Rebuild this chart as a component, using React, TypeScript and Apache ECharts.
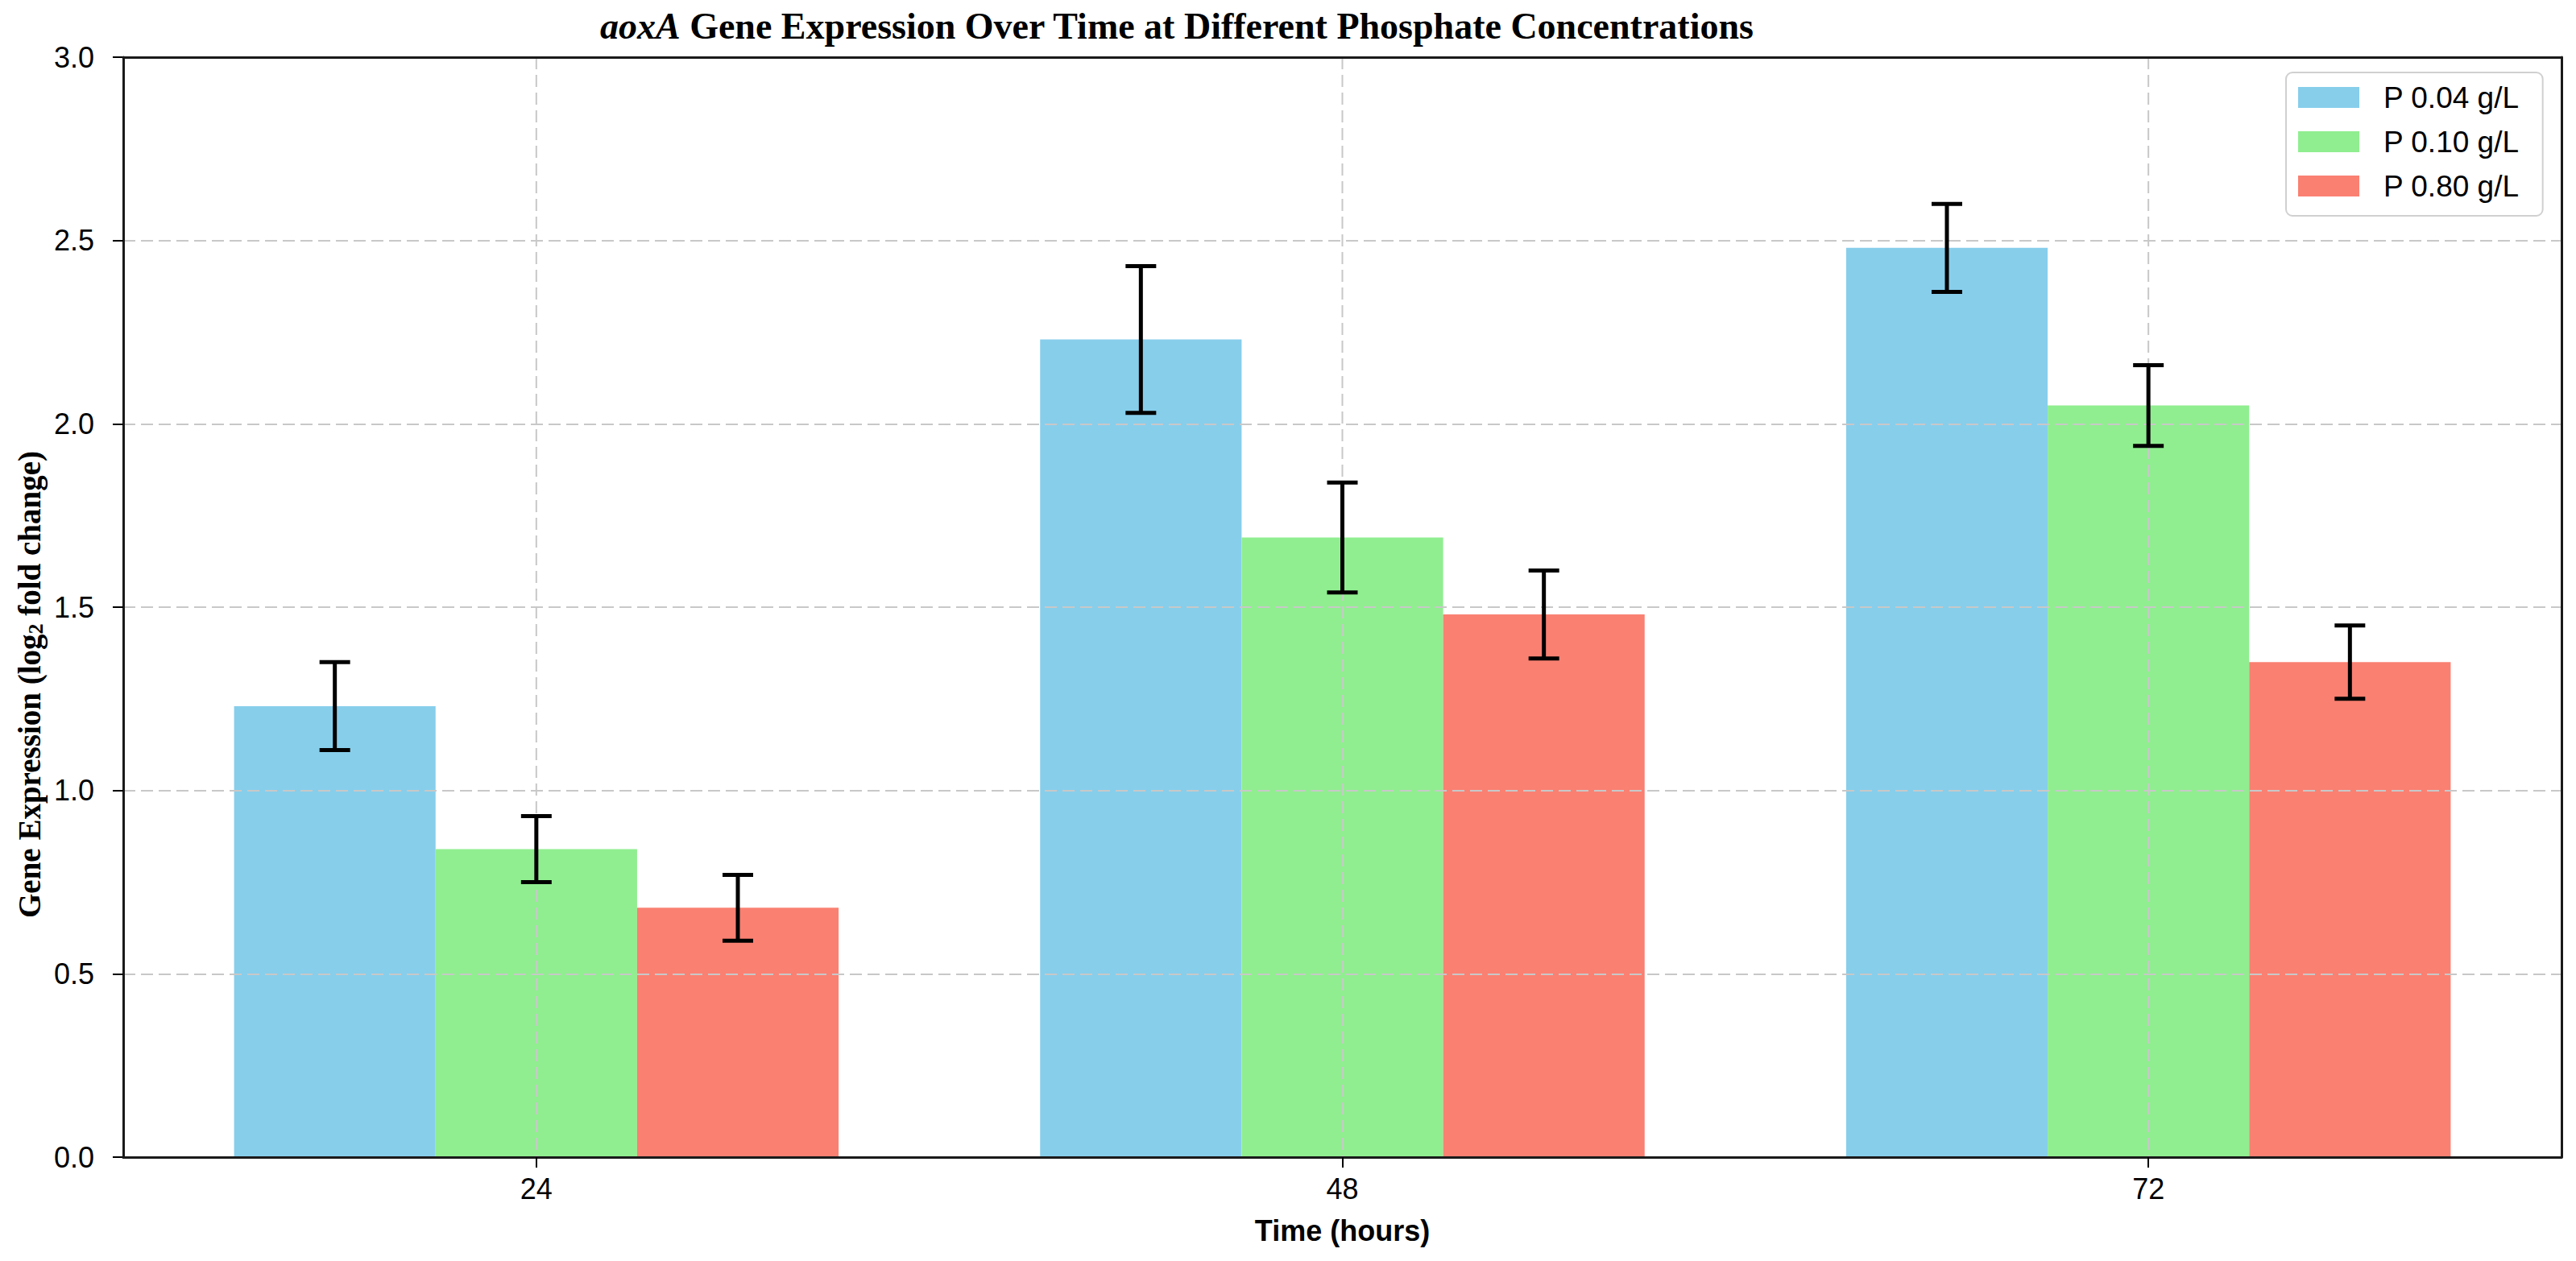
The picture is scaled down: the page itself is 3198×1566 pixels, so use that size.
import React, { useEffect, useRef } from "react";
import * as echarts from "echarts";

// ---- data ----
const hours = ["24", "48", "72"];
const seriesNames = ["P 0.04 g/L", "P 0.10 g/L", "P 0.80 g/L"];
const p004 = [1.23, 2.23, 2.48];
const p004Err = [0.12, 0.2, 0.12];
const p010 = [0.84, 1.69, 2.05];
const p010Err = [0.09, 0.15, 0.11];
const p080 = [0.68, 1.48, 1.35];
const p080Err = [0.09, 0.12, 0.1];
const yTicks = [0, 0.5, 1, 1.5, 2, 2.5, 3];

const colors = ["#87CEEB", "#90EE90", "#FA8072"];
const values = [p004, p010, p080];
const errors = [p004Err, p010Err, p080Err];

const W = 3198;
const H = 1566;
const BAR_W = 0.25;
const SERIF = "'Liberation Serif', 'Times New Roman', serif";
const SANS = "'Liberation Sans', Arial, sans-serif";
const GRID_COLOR = "#c8c8c8";
const SPINE = "#1a1a1a";

export default function App() {
  const ref = useRef<HTMLDivElement>(null);
  useEffect(() => {
    if (!ref.current) return;
    const chart = echarts.init(ref.current, null, { renderer: "svg", width: W, height: H });

    const barSeries = values.map((vals, k) => {
      const off = (k - 1) * BAR_W;
      return {
        type: "custom",
        name: seriesNames[k],
        z: 2,
        itemStyle: { color: colors[k] },
        encode: { x: 0, y: 1 },
        data: hours.map((_, i) => [i, vals[i]]),
        renderItem: (params: any, api: any) => {
          const c = api.value(0) + off;
          const v = api.value(1);
          const p0 = api.coord([c - BAR_W / 2, v]);
          const p1 = api.coord([c + BAR_W / 2, 0]);
          return {
            type: "rect",
            shape: { x: p0[0], y: p0[1], width: p1[0] - p0[0], height: p1[1] - p0[1] },
            style: { fill: colors[k] },
          };
        },
      };
    });

    const errSeries = values.map((vals, k) => {
      const off = (k - 1) * BAR_W;
      return {
        type: "custom",
        name: "err" + k,
        z: 6,
        silent: true,
        encode: { x: 0, y: 1 },
        data: hours.map((_, i) => [i, vals[i], errors[k][i]]),
        renderItem: (params: any, api: any) => {
          const c = api.value(0) + off;
          const v = api.value(1);
          const e = api.value(2);
          const top = api.coord([c, v + e]);
          const bot = api.coord([c, v - e]);
          const x = top[0];
          const cw = 19;
          const st = { stroke: "#000", lineWidth: 5 };
          return {
            type: "group",
            children: [
              { type: "line", shape: { x1: x, y1: top[1], x2: x, y2: bot[1] }, style: st },
              { type: "line", shape: { x1: x - cw, y1: top[1], x2: x + cw, y2: top[1] }, style: st },
              { type: "line", shape: { x1: x - cw, y1: bot[1], x2: x + cw, y2: bot[1] }, style: st },
            ],
          };
        },
      };
    });

    const vGrid = {
      type: "custom",
      name: "vgrid",
      z: 3,
      silent: true,
      data: hours.map((_, i) => [i]),
      encode: { x: 0 },
      renderItem: (params: any, api: any) => {
        const t = api.coord([api.value(0), 3]);
        const b = api.coord([api.value(0), 0]);
        return {
          type: "line",
          shape: { x1: t[0], y1: t[1], x2: b[0], y2: b[1] },
          style: { stroke: GRID_COLOR, lineWidth: 2, lineDash: [15, 7] },
        };
      },
    };

    chart.setOption({
      animation: false,
      backgroundColor: "#ffffff",
      title: {
        left: 745,
        top: 9,
        padding: 0,
        text: "{i|aoxA}{b| Gene Expression Over Time at Different Phosphate Concentrations}",
        textStyle: {
          rich: {
            i: { fontFamily: SERIF, fontSize: 46, fontWeight: "bold", fontStyle: "italic", color: "#000" },
            b: { fontFamily: SERIF, fontSize: 46, fontWeight: "bold", color: "#000" },
          },
        },
      },
      legend: {
        data: seriesNames,
        orient: "vertical",
        left: 2838,
        top: 90,
        padding: [10, 29, 16, 15],
        itemWidth: 76,
        itemHeight: 26,
        itemGap: 13,
        icon: "rect",
        backgroundColor: "#ffffff",
        borderColor: "#d0d0d0",
        borderWidth: 2,
        borderRadius: 8,
        textStyle: {
          fontFamily: SANS,
          fontSize: 37,
          color: "#000",
          lineHeight: 42,
          padding: [0, 0, 0, 25],
        },
      },
      grid: {
        left: 153,
        top: 71,
        width: 3027,
        height: 1366,
        show: false,
      },
      xAxis: [
        {
          type: "value",
          min: -0.5125,
          max: 2.5125,
          z: 4,
          axisLine: { show: true, onZero: false, lineStyle: { color: SPINE, width: 3 } },
          axisTick: { show: true, length: 13, customValues: [0, 1, 2], lineStyle: { color: "#000", width: 2 } },
          axisLabel: {
            customValues: [0, 1, 2],
            formatter: (v: number) => hours[Math.round(v)] ?? "",
            fontFamily: SANS,
            fontSize: 36,
            color: "#000",
            margin: 21,
          },
          splitLine: { show: false },
          name: "Time (hours)",
          nameLocation: "middle",
          nameGap: 73,
          nameTextStyle: { fontFamily: SANS, fontSize: 36, fontWeight: "bold", color: "#000", verticalAlign: "top" },
        },
        {
          type: "value",
          position: "top",
          min: -0.5125,
          max: 2.5125,
          z: 4,
          axisLine: { show: true, onZero: false, lineStyle: { color: SPINE, width: 3 } },
          axisTick: { show: false },
          axisLabel: { show: false },
          splitLine: { show: false },
        },
      ],
      yAxis: [
        {
          type: "value",
          min: 0,
          max: 3,
          interval: 0.5,
          z: 3,
          axisLine: { show: true, onZero: false, lineStyle: { color: SPINE, width: 3 } },
          axisTick: { show: true, length: 13, lineStyle: { color: "#000", width: 2 } },
          axisLabel: {
            formatter: (v: number) => (yTicks.includes(v) ? v.toFixed(1) : ""),
            fontFamily: SANS,
            fontSize: 36,
            color: "#000",
            margin: 36,
          },
          splitLine: { show: true, lineStyle: { color: GRID_COLOR, width: 2, type: [15, 7] } },
        },
        {
          type: "value",
          position: "right",
          min: 0,
          max: 3,
          interval: 0.5,
          z: 4,
          axisLine: { show: true, onZero: false, lineStyle: { color: SPINE, width: 3 } },
          axisTick: { show: false },
          axisLabel: { show: false },
          splitLine: { show: false },
        },
      ],
      graphic: [
        {
          type: "text",
          x: 36,
          y: 850,
          rotation: Math.PI / 2,
          z: 10,
          style: {
            text: "{a|Gene Expression (log}{s|2}{a| fold change)}",
            align: "center",
            verticalAlign: "middle",
            textAlign: "center",
            textVerticalAlign: "middle",
            fill: "#000",
            rich: {
              a: { fontFamily: SERIF, fontSize: 39, fontWeight: "bold", fill: "#000", lineHeight: 42 },
              s: { fontFamily: SERIF, fontSize: 26, fontWeight: "bold", fill: "#000", lineHeight: 22, verticalAlign: "bottom" },
            },
          },
        },
      ],
      series: [...barSeries, vGrid, ...errSeries],
    });
    return () => chart.dispose();
  }, []);
  return (
    <div
      ref={ref}
      style={{ position: "absolute", left: 0, top: 0, width: W, height: H, background: "#fff" }}
    />
  );
}
